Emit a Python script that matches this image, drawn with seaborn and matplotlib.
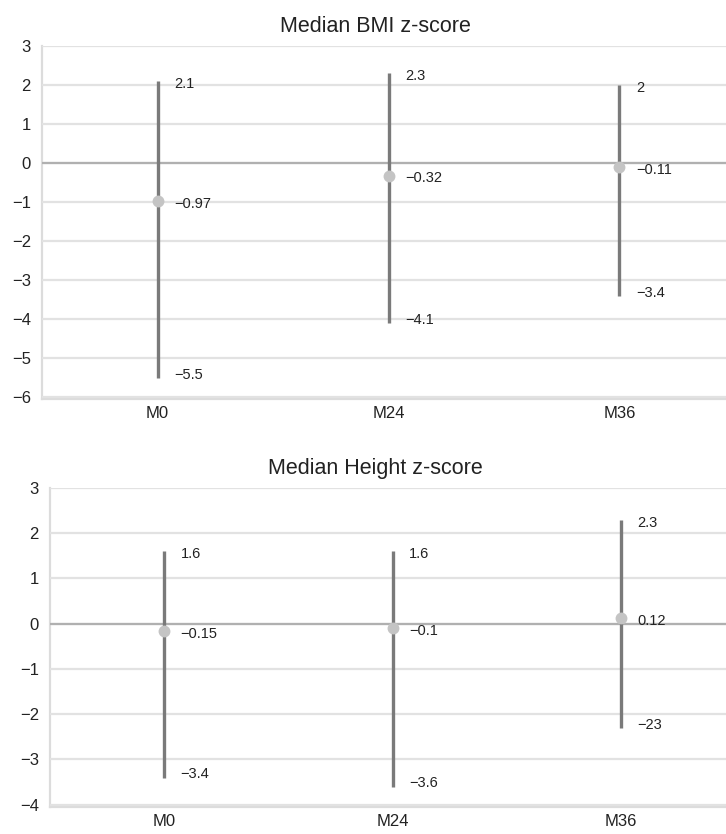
import matplotlib
matplotlib.use("Agg")
import matplotlib.pyplot as plt
import seaborn as sns
import pandas as pd

# ---- data ----
visits = ["M0", "M24", "M36"]
bmi_median = [-0.97, -0.32, -0.11]
bmi_upper = [2.1, 2.3, 2.0]
bmi_lower = [-5.5, -4.1, -3.4]
bmi_median_labels = ["\u22120.97", "\u22120.32", "\u22120.11"]
bmi_upper_labels = ["2.1", "2.3", "2"]
bmi_lower_labels = ["\u22125.5", "\u22124.1", "\u22123.4"]

height_median = [-0.15, -0.1, 0.12]
height_upper = [1.6, 1.6, 2.3]
height_lower = [-3.4, -3.6, -2.3]
height_median_labels = ["\u22120.15", "\u22120.1", "0.12"]
height_upper_labels = ["1.6", "1.6", "2.3"]
height_lower_labels = ["\u22123.4", "\u22123.6", "\u221223"]

sns.set_theme(style="white")
plt.rcParams["font.family"] = ["Liberation Sans", "DejaVu Sans"]
plt.rcParams["axes.unicode_minus"] = True

fig = plt.figure(figsize=(7.26, 8.34), dpi=100)
ax1 = fig.add_axes([0.058, 0.5216, 0.948, 0.4232])
ax2 = fig.add_axes([0.069, 0.0324, 0.937, 0.3825])

LINE = "#7a7a7a"
DOT = "#c4c4c4"
GRID = "#e2e2e2"


def panel(ax, title, med, up, lo, medl, upl, lol, ylim, ticks, title_x):
    df = pd.DataFrame({"visit": visits, "median": med})
    for t in ticks:
        ax.axhline(t, color=GRID, lw=1.6, zorder=0)
    ax.axhline(0, color="#b0b0b0", lw=1.6, zorder=1)
    pos = list(range(len(visits)))
    ax.vlines(pos, lo, up, color=LINE, lw=2.4, zorder=2)
    sns.pointplot(data=df, x="visit", y="median", ax=ax, linestyle="none",
                  color=DOT, markers="o", markersize=6.5, errorbar=None)
    for c in ax.collections:
        c.set_zorder(3)
    for l in ax.lines:
        l.set_zorder(3)
    dx = 0.072
    for i in pos:
        ax.text(i + dx, up[i] - 0.07, upl[i], fontsize=10.5, va="center", ha="left", color="#222")
        ax.text(i + dx, med[i] - 0.07, medl[i], fontsize=10.5, va="center", ha="left", color="#222")
        ax.text(i + dx, lo[i] + 0.07, lol[i], fontsize=10.5, va="center", ha="left", color="#222")
    ax.set_xlim(-0.5, 2.48)
    ax.set_ylim(*ylim)
    ax.set_yticks(ticks)
    ax.set_yticklabels([("\u2212%d" % -t) if t < 0 else str(t) for t in ticks])
    ax.set_xlabel("")
    ax.set_ylabel("")
    ax.set_title(title, fontsize=15.5, color="#222", pad=10, x=title_x)
    ax.tick_params(axis="both", labelsize=12, colors="#222", length=0)
    ax.tick_params(axis="y", pad=8)
    ax.tick_params(axis="x", pad=5)
    for s in ["top", "right"]:
        ax.spines[s].set_visible(False)
    for s in ["left", "bottom"]:
        ax.spines[s].set_color("#dcdcdc")
        ax.spines[s].set_linewidth(1.6)
    ax.grid(False)


panel(ax1, "Median BMI z-score", bmi_median, bmi_upper, bmi_lower,
      bmi_median_labels, bmi_upper_labels, bmi_lower_labels, (-6.05, 3.0), list(range(-6, 4)), 0.484)
panel(ax2, "Median Height z-score", height_median, height_upper, height_lower,
      height_median_labels, height_upper_labels, height_lower_labels, (-4.05, 3.0), list(range(-4, 4)), 0.478)

fig.savefig("out.png", dpi=100)
